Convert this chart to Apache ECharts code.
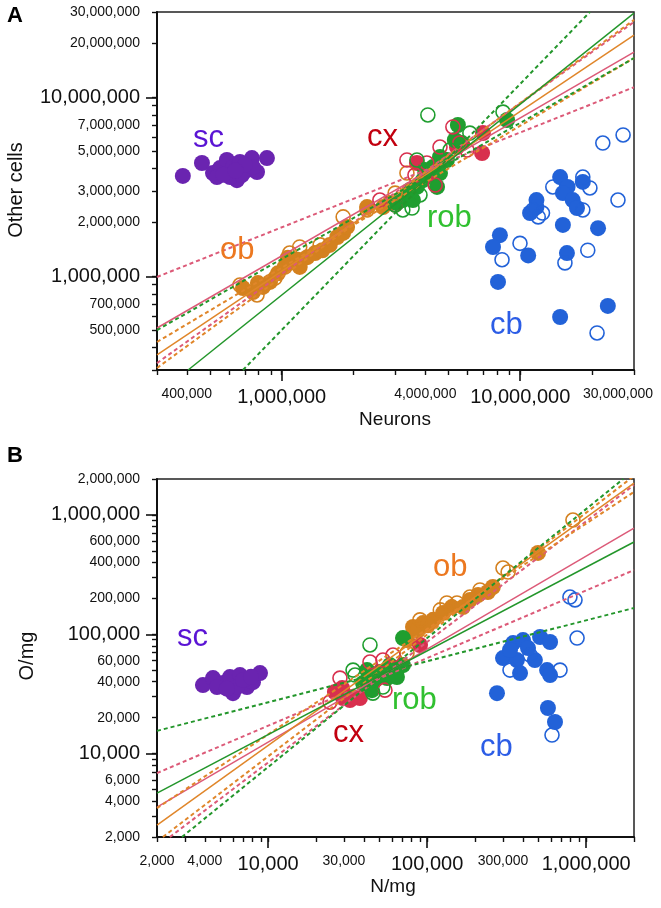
<!DOCTYPE html>
<html><head><meta charset="utf-8">
<script src="https://cdn.jsdelivr.net/npm/echarts@6/dist/echarts.min.js"></script>
<style>html,body{margin:0;padding:0;background:#fff}#c{width:661px;height:908px}</style>
</head><body><div id="c"></div>
<script>
// ---------- Panel A: Neurons vs Other cells ----------
const A_sc = [[385e3,3.64e6],[463e3,4.30e6],[515e3,3.78e6],[551e3,4.03e6],[589e3,4.47e6],[625e3,4.08e6],[649e3,3.45e6],[668e3,4.36e6],[715e3,3.93e6],[750e3,4.58e6],[788e3,3.83e6],[867e3,4.58e6],[607e3,3.59e6],[681e3,3.68e6],[535e3,3.59e6],[758e3,4.08e6],[570e3,3.70e6],[700e3,4.20e6],[640e3,3.90e6]];
const A_obF = [[688e3,861e3],[758e3,818e3],[834e3,873e3],[893e3,931e3],[964e3,1.04e6],[1.03e6,1.13e6],[1.08e6,1.20e6],[1.17e6,1.24e6],[1.28e6,1.28e6],[1.38e6,1.35e6],[1.06e6,1.27e6],[1.19e6,1.13e6],[1.71e6,1.66e6],[1.81e6,1.75e6],[1.88e6,1.89e6],[2.28e6,2.44e6],[2.66e6,2.44e6],[2.84e6,2.57e6],[795e3,918e3],[1.48e6,1.40e6],[1.59e6,1.50e6]];
const A_obO = [[668e3,895e3],[788e3,788e3],[1.19e6,1.46e6],[1.08e6,1.35e6],[1.81e6,2.15e6],[2.28e6,2.35e6],[2.99e6,2.92e6],[3.35e6,3.78e6],[937e3,979e3],[1.45e6,1.50e6]];
const A_cxF = [[3.69e6,4.30e6],[5.43e6,5.28e6],[6.92e6,4.89e6],[6.98e6,6.32e6],[4.19e6,3.68e6],[4.84e6,4.47e6]];
const A_cxO = [[3.35e6,4.47e6],[4.06e6,4.30e6],[4.61e6,5.28e6],[5.58e6,5.56e6],[5.98e6,5.08e6],[5.22e6,6.84e6],[3.62e6,3.68e6],[2.58e6,2.67e6],[2.99e6,2.51e6],[4.40e6,3.24e6]];
const A_robF = [[5.48e6,7.01e6],[5.70e6,5.56e6],[4.61e6,4.65e6],[4.93e6,4.47e6],[4.31e6,4.08e6],[4.61e6,3.78e6],[3.91e6,3.45e6],[3.69e6,3.16e6],[3.45e6,3.04e6],[4.48e6,3.16e6],[3.22e6,2.67e6],[3.55e6,2.67e6],[3.04e6,2.57e6],[8.81e6,7.48e6],[5.32e6,5.78e6],[3.99e6,3.93e6]];
const A_robO = [[4.10e6,7.98e6],[3.69e6,4.47e6],[3.22e6,2.35e6],[3.52e6,2.41e6],[6.15e6,6.32e6],[8.47e6,8.28e6],[2.99e6,2.51e6],[3.80e6,2.85e6],[5.08e6,5.08e6]];
const A_cbF = [[14.7e6,3.59e6],[15.8e6,3.16e6],[15.1e6,2.92e6],[16.6e6,2.67e6],[17.3e6,2.41e6],[18.3e6,3.37e6],[11.7e6,2.67e6],[11.0e6,2.26e6],[11.7e6,2.44e6],[8.22e6,1.70e6],[7.69e6,1.46e6],[10.8e6,1.31e6],[15.1e6,1.94e6],[21.2e6,1.86e6],[15.7e6,1.35e6],[8.07e6,931e3],[23.3e6,684e3],[14.7e6,593e3]];
const A_cbO = [[22.2e6,5.56e6],[27.0e6,6.17e6],[13.7e6,3.16e6],[18.3e6,3.59e6],[19.6e6,3.12e6],[25.7e6,2.67e6],[12.4e6,2.26e6],[11.3e6,2.35e6],[9.98e6,1.53e6],[8.39e6,1.24e6],[11.9e6,2.15e6],[18.3e6,2.35e6],[15.4e6,1.19e6],[19.2e6,1.40e6],[21.0e6,483e3]];
// regression fits (solid) and confidence lines (dashed), two endpoints each
const A_cxFit = [[300e3,515e3],[30e6,17.9e6]];
const A_cxCi1 = [[300e3,993e3],[30e6,11.4e6]];
const A_cxCi2 = [[300e3,328e3],[30e6,26.4e6]];
const A_obFit = [[300e3,364e3],[30e6,22.3e6]];
const A_obCi1 = [[300e3,430e3],[30e6,16.6e6]];
const A_obCi2 = [[300e3,308e3],[30e6,27.1e6]];
const A_robFit = [[405e3,300e3],[30e6,29.6e6]];
const A_robCi1 = [[300e3,501e3],[30e6,16.6e6]];
const A_robCi2 = [[688e3,300e3],[19.6e6,30e6]];
const A_xRange = [3e5, 3e7];
const A_yRange = [3e5, 3e7];
const A_xLabels = [4e5, 1e6, 4e6, 1e7, 3e7];
const A_yLabels = [5e5, 7e5, 1e6, 2e6, 3e6, 5e6, 7e6, 1e7, 2e7, 3e7];
const A_decades = [1e6, 1e7];

// ---------- Panel B: N/mg vs O/mg ----------
const B_sc = [[3.89e3,37.5e3],[4.50e3,42.9e3],[5.20e3,39.0e3],[5.75e3,43.8e3],[6.01e3,32.1e3],[6.65e3,45.5e3],[7.36e3,36.1e3],[8.03e3,39.7e3],[8.89e3,47.3e3],[6.37e3,36.1e3],[6.95e3,41.3e3],[4.77e3,36.1e3],[5.5e3,35e3],[7.8e3,44e3]];
const B_obF = [[74.7e3,89.3e3],[81.5e3,115e3],[94.2e3,124e3],[109e3,132e3],[126e3,151e3],[143e3,169e3],[168e3,169e3],[186e3,194e3],[241e3,226e3],[259e3,249e3],[498e3,480e3],[87.7e3,108e3],[101e3,119e3],[209e3,213e3]];
const B_obO = [[121e3,160e3],[133e3,183e3],[154e3,183e3],[186e3,205e3],[300e3,359e3],[323e3,332e3],[826e3,906e3],[74.7e3,69.5e3],[90.2e3,132e3],[215e3,235e3]];
const B_cxF = [[29.2e3,35.4e3],[33.7e3,29.8e3],[37.8e3,29.2e3],[29.6e3,29.2e3],[90.2e3,81.3e3],[32.7e3,28.1e3],[26.3e3,32.8e3]];
const B_cxO = [[43.7e3,58.5e3],[52.7e3,60.8e3],[24.5e3,27.0e3],[54.3e3,34.0e3],[28.3e3,42.9e3],[61.0e3,67.0e3]];
const B_robF = [[39.5e3,39.0e3],[47.0e3,41.3e3],[56.0e3,42.9e3],[64.6e3,50.1e3],[70.5e3,55.2e3],[45.0e3,34.0e3],[70.5e3,92.9e3],[50.6e3,48.2e3],[41.9e3,50.1e3],[64.6e3,43.8e3],[58.3e3,55.2e3]];
const B_robO = [[43.7e3,81.3e3],[35.2e3,45.5e3],[45.6e3,32.1e3],[34.2e3,50.1e3],[52.7e3,36.1e3]];
const B_cbF = [[347e3,84.3e3],[401e3,89.3e3],[513e3,94.8e3],[593e3,86.1e3],[300e3,63.2e3],[367e3,60.8e3],[476e3,60.8e3],[384e3,47.3e3],[568e3,50.1e3],[593e3,45.5e3],[431e3,76.6e3],[332e3,73.8e3],[275e3,32.1e3],[575e3,24.1e3],[637e3,18.4e3]];
const B_cbO = [[791e3,205e3],[851e3,194e3],[877e3,92.9e3],[685e3,50.1e3],[332e3,50.1e3],[444e3,67.0e3],[610e3,14.3e3]];
const B_cxFit = [[2e3,3.56e3],[2e6,776e3]];
const B_cxCi1 = [[2e3,6.87e3],[2e6,345e3]];
const B_cxCi2 = [[2.41e3,2e3],[2e6,1.78e6]];
const B_obFit = [[2e3,2.52e3],[2e6,1.85e6]];
const B_obCi1 = [[2e3,3.49e3],[2e6,1.56e6]];
const B_obCi2 = [[2.18e3,2e3],[2e6,2.12e6]];
const B_robFit = [[2e3,4.67e3],[2e6,593e3]];
const B_robCi1 = [[2e3,15.5e3],[2e6,166e3]];
const B_robCi2 = [[2.87e3,2e3],[1.71e6,2e6]];
const B_xRange = [2e3, 2e6];
const B_yRange = [2e3, 2e6];
const B_xLabels = [2e3, 4e3, 1e4, 3e4, 1e5, 3e5, 1e6];
const B_yLabels = [2e3, 4e3, 6e3, 1e4, 2e4, 4e4, 6e4, 1e5, 2e5, 4e5, 6e5, 1e6, 2e6];
const B_decades = [1e4, 1e5, 1e6];

// ---------- styling ----------
const FONT = 'Liberation Sans, Arial, Helvetica, sans-serif';
const COL = {
  sc:'#6a24b0', ob:'#d4811f', cx:'#d8304e', rob:'#1f9e2f', cb:'#2262d8',
  obLine:'#e0862a', cxLine:'#dc5a78', robLine:'#23962b'
};
const LBL = {sc:'#5a14d4', ob:'#ec7820', cx:'#c2000f', rob:'#30c030', cb:'#2c5de6'};

const L = Math.log10;
function pts(a){ return a.map(p => [L(p[0]), L(p[1])]); }
function multiples(lo, hi){ // tick positions at k*10^n within range
  const out = [];
  for (let e = Math.floor(L(lo)); e <= Math.ceil(L(hi)); e++)
    for (let k = 1; k < 10; k++) { const v = k*Math.pow(10,e); if (v >= lo*0.999 && v <= hi*1.001) out.push(L(v)); }
  return out;
}
function commas(n){ return String(n).replace(/\B(?=(\d{3})+(?!\d))/g, ','); }
function makeFmt(shiftVal){
  return function(v){
    const n = Number(Math.pow(10, v).toPrecision(3));
    const isDec = Math.abs(L(n) - Math.round(L(n))) < 1e-9;
    if (shiftVal && Math.abs(n - shiftVal) < 1) return '{e|' + commas(n) + '}';
    return (isDec ? '{b|' : '{s|') + commas(n) + '}';
  };
}
const RICH = {
  s:{fontSize:14, fontFamily:FONT, color:'#111'},
  b:{fontSize:20, fontFamily:FONT, color:'#111'},
  e:{fontSize:14, fontFamily:FONT, color:'#111', padding:[0,32,0,0]}
};

function axesFor(grid, dir, range, labels, decades, shiftVal){
  const min = L(range[0]), max = L(range[1]);
  const pos = dir === 'x' ? 'bottom' : 'left';
  const main = {
    gridIndex:grid, type:'value', min:min, max:max, position:pos,
    axisLine:{show:true, onZero:false, lineStyle:{color:'#111', width:2}},
    axisTick:{show:true, customValues:multiples(range[0], range[1]), length:5, lineStyle:{color:'#111', width:1.4}},
    axisLabel:{show:true, customValues:labels.map(L), formatter:makeFmt(shiftVal), rich:RICH, margin:17, color:'#111'},
    splitLine:{show:false}
  };
  const major = {
    gridIndex:grid, type:'value', min:min, max:max, position:pos, offset:0,
    axisLine:{show:false, onZero:false},
    axisTick:{show:true, customValues:decades.map(L), length:11, lineStyle:{color:'#111', width:1.6}},
    axisLabel:{show:false}, splitLine:{show:false}
  };
  return [main, major];
}

const series = [];
function addPanel(ax, d){
  const base = {xAxisIndex:ax, yAxisIndex:ax};
  const filled = (data, c) => Object.assign({type:'scatter', data:pts(data), symbolSize:16, itemStyle:{color:c, opacity:1}, z:2, silent:true}, base);
  const open = (data, c) => Object.assign({type:'scatter', data:pts(data), symbolSize:14, itemStyle:{color:'rgba(255,255,255,0)', borderColor:c, borderWidth:1.6, opacity:1}, z:3, silent:true}, base);
  const line = (data, c, dashed) => Object.assign({type:'line', data:pts(data), symbol:'none', clip:true, lineStyle:{color:c, width:dashed?2:1.5, type:dashed?[4,3]:'solid'}, z:5, silent:true}, base);
  series.push(filled(d.sc, COL.sc));
  series.push(filled(d.obF, COL.ob), open(d.obO, COL.ob));
  series.push(filled(d.cxF, COL.cx), open(d.cxO, COL.cx));
  series.push(filled(d.robF, COL.rob), open(d.robO, COL.rob));
  series.push(filled(d.cbF, COL.cb), open(d.cbO, COL.cb));
  series.push(line(d.cxCi1, COL.cxLine, true), line(d.cxCi2, COL.cxLine, true), line(d.cxFit, COL.cxLine, false));
  series.push(line(d.obCi1, COL.obLine, true), line(d.obCi2, COL.obLine, true), line(d.obFit, COL.obLine, false));
  series.push(line(d.robCi1, COL.robLine, true), line(d.robCi2, COL.robLine, true), line(d.robFit, COL.robLine, false));
}
addPanel(0, {sc:A_sc, obF:A_obF, obO:A_obO, cxF:A_cxF, cxO:A_cxO, robF:A_robF, robO:A_robO, cbF:A_cbF, cbO:A_cbO,
  cxFit:A_cxFit, cxCi1:A_cxCi1, cxCi2:A_cxCi2, obFit:A_obFit, obCi1:A_obCi1, obCi2:A_obCi2, robFit:A_robFit, robCi1:A_robCi1, robCi2:A_robCi2});
// panel B axes are index 2
addPanel(2, {sc:B_sc, obF:B_obF, obO:B_obO, cxF:B_cxF, cxO:B_cxO, robF:B_robF, robO:B_robO, cbF:B_cbF, cbO:B_cbO,
  cxFit:B_cxFit, cxCi1:B_cxCi1, cxCi2:B_cxCi2, obFit:B_obFit, obCi1:B_obCi1, obCi2:B_obCi2, robFit:B_robFit, robCi1:B_robCi1, robCi2:B_robCi2});

function txt(x, y, s, size, color, opts){
  return Object.assign({type:'text', x:x, y:y, z:20, silent:true,
    style:Object.assign({text:s, fontSize:size, fontFamily:FONT, fill:color, align:'left', verticalAlign:'middle'}, (opts&&opts.style)||{})},
    opts && opts.rotation !== undefined ? {rotation:opts.rotation} : {});
}

const option = {
  animation:false,
  backgroundColor:'#fff',
  grid:[
    {left:157, top:12, width:477, height:358, show:true, borderColor:'#222', borderWidth:1.5, backgroundColor:'transparent'},
    {left:157, top:479, width:477, height:358, show:true, borderColor:'#222', borderWidth:1.5, backgroundColor:'transparent'}
  ],
  xAxis:[].concat(axesFor(0,'x',A_xRange,A_xLabels,A_decades,3e7), axesFor(1,'x',B_xRange,B_xLabels,B_decades,null)),
  yAxis:[].concat(axesFor(0,'y',A_yRange,A_yLabels,A_decades,null), axesFor(1,'y',B_yRange,B_yLabels,B_decades,null)),
  series:series,
  graphic:[
    txt(7, 16, 'A', 22, '#000', {style:{fontWeight:'bold'}}),
    txt(7, 456, 'B', 22, '#000', {style:{fontWeight:'bold'}}),
    txt(395, 420, 'Neurons', 19, '#111', {style:{align:'center'}}),
    txt(393, 887, 'N/mg', 19, '#111', {style:{align:'center'}}),
    txt(16, 190, 'Other cells', 20, '#111', {style:{align:'center'}, rotation:Math.PI/2}),
    txt(27, 656, 'O/mg', 20, '#111', {style:{align:'center'}, rotation:Math.PI/2}),
    // group labels, panel A
    txt(193, 138, 'sc', 31, LBL.sc), txt(367, 137, 'cx', 31, LBL.cx), txt(220, 250, 'ob', 31, LBL.ob),
    txt(427, 218, 'rob', 31, LBL.rob), txt(490, 325, 'cb', 31, LBL.cb),
    // group labels, panel B
    txt(177, 637, 'sc', 31, LBL.sc), txt(433, 567, 'ob', 31, LBL.ob), txt(392, 700, 'rob', 31, LBL.rob),
    txt(333, 733, 'cx', 31, LBL.cx), txt(480, 747, 'cb', 31, LBL.cb)
  ]
};
const chart = echarts.init(document.getElementById('c'), null, {renderer:'canvas'});
chart.setOption(option);
</script></body></html>
